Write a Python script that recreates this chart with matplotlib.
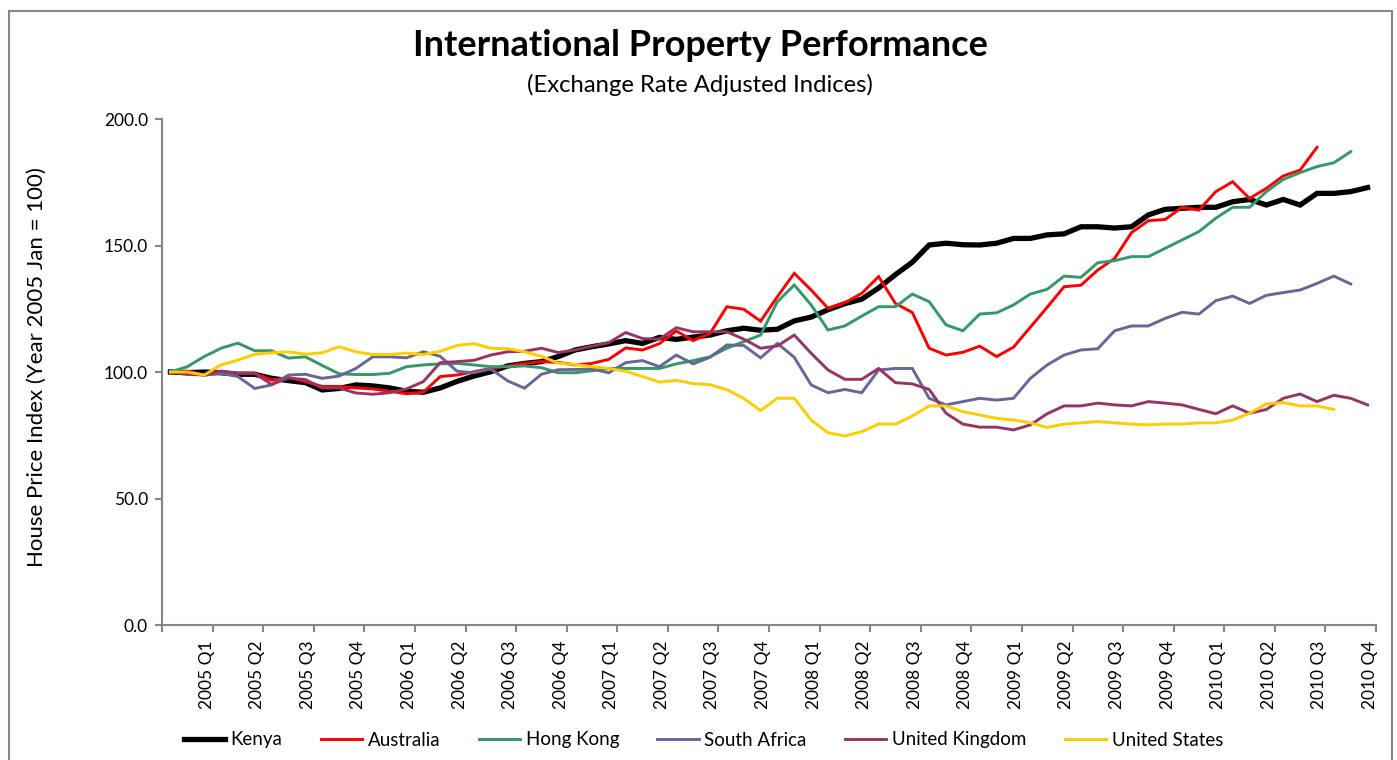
import matplotlib
matplotlib.use('Agg')
import matplotlib.pyplot as plt
import matplotlib.transforms as mtransforms
from matplotlib.patches import Rectangle
import numpy as np

FONT = ['Lato', 'DejaVu Sans']
plt.rcParams['font.family'] = FONT

quarter_labels = ['2005 Q1', '2005 Q2', '2005 Q3', '2005 Q4',
                  '2006 Q1', '2006 Q2', '2006 Q3', '2006 Q4',
                  '2007 Q1', '2007 Q2', '2007 Q3', '2007 Q4',
                  '2008 Q1', '2008 Q2', '2008 Q3', '2008 Q4',
                  '2009 Q1', '2009 Q2', '2009 Q3', '2009 Q4',
                  '2010 Q1', '2010 Q2', '2010 Q3', '2010 Q4']

# monthly index values, Jan 2005 onwards
kenya = [100.0, 99.7, 100.0, 99.7, 99.1, 99.1, 97.5, 96.6, 95.8, 92.9, 93.5, 94.9,
         94.5, 93.7, 92.4, 92.0, 93.7, 96.3, 98.4, 100.1, 102.4, 103.4, 104.1, 106.1,
         108.7, 110.0, 111.1, 112.4, 111.3, 113.7, 112.9, 113.8, 114.6, 116.3, 117.3, 116.5,
         116.9, 120.2, 121.7, 124.6, 127.0, 128.8, 133.2, 138.5, 143.4, 150.2, 150.9, 150.3,
         150.2, 150.9, 152.8, 152.8, 154.2, 154.6, 157.4, 157.4, 156.9, 157.4, 162.1, 164.3,
         164.7, 165.1, 165.1, 167.3, 168.2, 166.0, 168.2, 166.0, 170.6, 170.6, 171.3, 172.9]

australia = [100.0, 100.4, 98.8, 99.5, 99.5, 99.5, 96.8, 97.8, 96.2, 94.3, 94.3, 93.7,
             93.3, 92.4, 91.4, 92.0, 98.2, 98.8, 100.1, 101.4, 102.4, 103.4, 104.1, 103.8,
             102.8, 103.4, 105.0, 109.5, 108.7, 111.2, 116.2, 112.4, 115.2, 125.8, 124.8, 120.1,
             129.8, 139.0, 132.4, 125.2, 127.4, 131.1, 137.7, 127.1, 123.5, 109.4, 106.7, 107.8,
             110.2, 106.1, 109.8, 117.7, 125.6, 133.7, 134.3, 140.3, 144.9, 155.1, 159.8, 160.3,
             165.1, 164.0, 171.3, 175.2, 168.6, 172.6, 177.5, 179.8, 188.8]

hong_kong = [100.0, 102.1, 106.1, 109.4, 111.4, 108.4, 108.4, 105.5, 106.0, 102.6, 99.3, 99.0,
             99.0, 99.5, 102.1, 102.8, 103.2, 103.4, 102.8, 102.1, 102.1, 102.4, 101.7, 99.7,
             99.7, 100.5, 101.4, 101.4, 101.4, 101.4, 103.2, 104.5, 106.0, 109.4, 112.0, 114.6,
             127.8, 134.4, 126.5, 116.6, 118.2, 122.1, 125.8, 125.8, 130.8, 127.8, 118.6, 116.3,
             122.9, 123.4, 126.5, 130.8, 132.7, 137.9, 137.4, 143.2, 144.0, 145.6, 145.6, 148.9,
             152.2, 155.5, 160.8, 165.1, 165.1, 171.3, 176.1, 178.8, 181.2, 182.7, 187.1]

south_africa = [100.0, 99.5, 98.8, 99.5, 98.2, 93.5, 94.9, 98.8, 99.1, 97.5, 98.4, 101.4,
                106.0, 106.0, 105.6, 108.0, 106.2, 100.3, 99.7, 101.2, 96.5, 93.6, 99.1, 100.9,
                101.0, 101.2, 99.7, 103.7, 104.5, 102.1, 106.7, 103.2, 105.8, 110.7, 110.5, 105.6,
                111.3, 105.8, 94.9, 91.8, 93.1, 91.8, 100.8, 101.4, 101.4, 89.6, 87.0, 88.3,
                89.6, 88.9, 89.6, 97.5, 102.8, 106.7, 108.7, 109.2, 116.3, 118.2, 118.2, 121.2,
                123.6, 122.9, 128.2, 130.0, 127.1, 130.3, 131.4, 132.4, 135.0, 137.9, 134.8]

united_kingdom = [100.0, 99.1, 98.8, 100.4, 99.5, 99.5, 95.1, 97.6, 97.0, 93.7, 93.7, 91.7,
                  91.2, 91.8, 93.3, 96.2, 103.7, 104.1, 104.6, 106.7, 108.0, 108.2, 109.4, 107.7,
                  108.7, 110.2, 111.6, 115.6, 113.2, 113.0, 117.5, 115.9, 115.9, 115.9, 113.0, 109.4,
                  110.3, 114.6, 107.4, 100.8, 97.1, 97.1, 101.4, 95.8, 95.3, 93.1, 83.7, 79.4,
                  78.2, 78.2, 77.1, 79.1, 83.5, 86.6, 86.6, 87.7, 87.0, 86.6, 88.3, 87.7,
                  87.0, 85.2, 83.5, 86.6, 83.7, 85.2, 89.6, 91.3, 88.3, 90.8, 89.6, 87.0]

united_states = [100.0, 100.0, 98.8, 102.8, 104.7, 107.0, 107.6, 108.0, 107.0, 107.6, 110.0, 108.0,
                 106.9, 106.9, 107.5, 106.9, 108.2, 110.5, 111.2, 109.4, 109.2, 108.0, 106.2, 103.5,
                 103.0, 102.1, 101.4, 100.3, 98.2, 96.0, 96.7, 95.4, 95.0, 93.0, 89.6, 84.8,
                 89.6, 89.6, 81.0, 76.0, 74.7, 76.4, 79.4, 79.4, 82.6, 86.6, 86.6, 84.3,
                 83.0, 81.7, 81.0, 79.9, 78.1, 79.4, 79.9, 80.4, 79.9, 79.4, 79.1, 79.4,
                 79.4, 79.9, 79.9, 81.0, 83.7, 87.4, 87.9, 86.6, 86.6, 85.2]

series_names = ['Kenya', 'Australia', 'Hong Kong', 'South Africa', 'United Kingdom', 'United States']
series_values = [kenya, australia, hong_kong, south_africa, united_kingdom, united_states]
series_colors = ['#000000', '#FF0000', '#339966', '#666699', '#993366', '#FFCC00']
series_widths = [3.8, 2.1, 2.1, 2.1, 2.1, 2.1]

W, H = 1397, 760
fig = plt.figure(figsize=(W / 100, H / 100), dpi=100)
fig.patch.set_facecolor('white')

# outer chart border
fig.patches.append(Rectangle((9 / W, -0.05), (1392 - 9) / W, 0.05 + (H - 11) / H,
                             transform=fig.transFigure, fill=False,
                             edgecolor='#868686', linewidth=1.5, zorder=0))

ax = fig.add_axes([162 / W, (H - 625) / H, (1376 - 162) / W, (625 - 119) / H])

n_months = 72
for name, vals, col, lw in zip(series_names, series_values, series_colors, series_widths):
    x = np.arange(len(vals)) + 0.5
    ax.plot(x, vals, color=col, linewidth=lw, label=name, solid_joinstyle='miter')

ax.set_xlim(0, n_months)
ax.set_ylim(0, 200)
ax.set_yticks(np.arange(0, 201, 50))
ax.set_yticklabels([f'{v:.1f}' for v in np.arange(0, 201, 50)], fontsize=12.5)
ax.set_xticks(np.arange(0, n_months + 1, 3))
ax.set_xticklabels([''] + quarter_labels, rotation=90, fontsize=12.5)

for s in ['top', 'right']:
    ax.spines[s].set_visible(False)
for s in ['left', 'bottom']:
    ax.spines[s].set_color('#868686')
    ax.spines[s].set_linewidth(1.5)
ax.tick_params(axis='y', direction='out', length=5, width=1.5, color='#868686', pad=5)
ax.tick_params(axis='x', direction='out', length=5, width=1.5, color='#868686', pad=6)

offset = mtransforms.ScaledTranslation(-6 / 100, 0, fig.dpi_scale_trans)
for lab in ax.get_xticklabels():
    lab.set_transform(lab.get_transform() + offset)

fig.text(37 / W, (H - 367) / H, 'House Price Index (Year 2005 Jan = 100)',
         fontsize=16, rotation=90, ha='center', va='center')

fig.text(700 / W, (H - 45) / H, 'International Property Performance',
         fontsize=26, fontweight='bold', ha='center', va='center')
fig.text(700 / W, (H - 85) / H, '(Exchange Rate Adjusted Indices)',
         fontsize=17.2, ha='center', va='center')

leg = fig.legend(loc='center left', bbox_to_anchor=(176 / W, (H - 740) / H), ncol=6,
                 frameon=False, fontsize=13.5, handlelength=2.2, handletextpad=0.3,
                 columnspacing=2.05, borderaxespad=0)

fig.savefig('out.png', dpi=100, facecolor='white')
